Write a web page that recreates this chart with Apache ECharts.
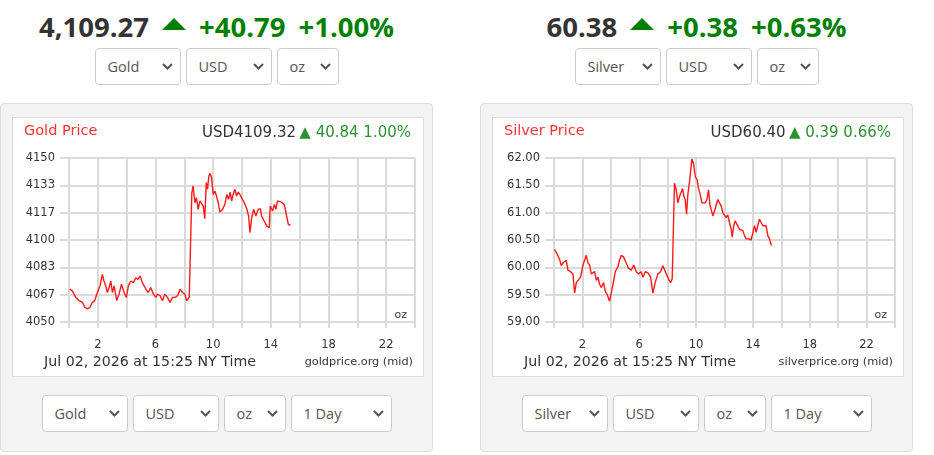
<!DOCTYPE html>
<html>
<head>
<meta charset="utf-8">
<script src="https://cdn.jsdelivr.net/npm/echarts@6/dist/echarts.min.js"></script>
<style>
  body { margin: 0; width: 934px; height: 455px; background: #fff; position: relative; overflow: hidden; font-family: "Open Sans", sans-serif; }
  .col { position: absolute; top: 0; width: 433px; height: 455px; }
  .quote { position: absolute; top: 13px; left: 0; width: 433px; text-align: center; font-size: 27.5px; line-height: 28px; font-weight: 700; color: #333; white-space: nowrap; }
  .quote .up { color: #008000; margin-left: 13px; }
  .tri { display: inline-block; width: 0; height: 0; border-left: 12px solid transparent; border-right: 12px solid transparent; border-bottom: 12px solid #008000; margin-left: 13px; vertical-align: 7px; }
  .row { position: absolute; left: 0; width: 433px; display: flex; justify-content: center; gap: 5px; }
  .sel { position: relative; box-sizing: border-box; height: 37px; border: 1px solid #ccc; border-radius: 4px; background: #fff; color: #555; font-size: 14.5px; line-height: 35px; padding-left: 12px; }
  .sel svg { position: absolute; right: 7px; top: 14px; }
  .panel { position: absolute; left: 0; top: 103px; width: 433px; height: 349px; box-sizing: border-box; background: #f3f3f3; border: 1px solid #dedede; border-radius: 4px; }
  .box { position: absolute; left: 11px; top: 13px; width: 412px; height: 260px; box-sizing: border-box; background: #fff; border: 1px solid #dcdcdc; }
  .chart { width: 410px; height: 258px; }
</style>
</head>
<body>
<div class="col" style="left:0">
  <div class="quote">4,109.27<span class="tri"></span><span class="up">+40.79</span><span class="up">+1.00%</span></div>
  <div class="row" style="top:48px">
    <div class="sel" style="width:86px">Gold</div>
    <div class="sel" style="width:86px">USD</div>
    <div class="sel" style="width:62px">oz</div>
  </div>
  <div class="panel">
    <div class="box"><div class="chart" id="chart-gold"></div></div>
  </div>
  <div class="row" style="top:395px">
    <div class="sel" style="width:86px">Gold</div>
    <div class="sel" style="width:86px">USD</div>
    <div class="sel" style="width:62px">oz</div>
    <div class="sel" style="width:101px">1 Day</div>
  </div>
</div>
<div class="col" style="left:480px">
  <div class="quote">60.38<span class="tri"></span><span class="up">+0.38</span><span class="up">+0.63%</span></div>
  <div class="row" style="top:48px">
    <div class="sel" style="width:86px">Silver</div>
    <div class="sel" style="width:86px">USD</div>
    <div class="sel" style="width:62px">oz</div>
  </div>
  <div class="panel">
    <div class="box"><div class="chart" id="chart-silver"></div></div>
  </div>
  <div class="row" style="top:395px">
    <div class="sel" style="width:86px">Silver</div>
    <div class="sel" style="width:86px">USD</div>
    <div class="sel" style="width:62px">oz</div>
    <div class="sel" style="width:101px">1 Day</div>
  </div>
</div>
<script>
// hours since midnight NY time
var goldHours = [0.05, 0.23, 0.47, 0.70, 0.81, 0.93, 1.09, 1.28, 1.46, 1.62, 1.78, 1.97, 2.15, 2.31, 2.43, 2.55, 2.66, 2.78, 2.90, 3.01,
  3.13, 3.31, 3.47, 3.64, 3.82, 3.98, 4.12, 4.28, 4.47, 4.63, 4.79, 4.93, 5.09, 5.33, 5.49, 5.67, 5.86, 6.02, 6.13, 6.32,
  6.48, 6.65, 6.83, 7.01, 7.18, 7.36, 7.53, 7.71, 7.87, 8.03, 8.17, 8.34, 8.44, 8.52, 8.61, 8.73, 8.84, 8.96, 9.08, 9.19,
  9.31, 9.42, 9.52, 9.61, 9.70, 9.79, 9.89, 10.00, 10.12, 10.23, 10.35, 10.47, 10.65, 10.81, 10.95, 11.07, 11.18, 11.28, 11.39, 11.51,
  11.62, 11.74, 11.85, 11.97, 12.16, 12.34, 12.46, 12.55, 12.66, 12.80, 12.96, 13.13, 13.27, 13.36, 13.54, 13.73, 13.89, 13.96, 14.12, 14.24,
  14.35, 14.47, 14.58, 14.70, 14.82, 14.93, 15.05, 15.21, 15.36];
var goldPrices = [4070, 4069, 4065, 4063, 4064, 4062, 4059, 4058, 4059, 4062, 4063, 4068, 4072, 4079, 4075, 4072, 4068, 4071, 4075, 4068,
  4072, 4063, 4067, 4073, 4068, 4065, 4072, 4075, 4074, 4077, 4076, 4078, 4074, 4070, 4068, 4071, 4067, 4065, 4067, 4066,
  4063, 4067, 4065, 4062, 4065, 4065, 4066, 4070, 4068, 4067, 4063, 4065, 4066, 4128.8, 4133, 4122.7, 4125.8, 4118.7, 4123.8, 4122.7,
  4120.7, 4113, 4135, 4131, 4139, 4140.6, 4138, 4127.8, 4129.9, 4126.8, 4122.7, 4117, 4118.7, 4121.7, 4127.8, 4124.8, 4129.2, 4123.8, 4127.8, 4130.9,
  4126.8, 4129.2, 4127.8, 4125.8, 4122.7, 4118.7, 4114.6, 4104.5, 4112.6, 4118.7, 4114.6, 4118.7, 4119.1, 4114.6, 4111.6, 4108.5, 4107.5, 4120.7, 4117.7, 4121.7,
  4118.7, 4123.8, 4124.8, 4123.2, 4123.8, 4121.7, 4116.7, 4109.6, 4109];

var silverHours = [0.04, 0.16, 0.28, 0.40, 0.51, 0.63, 0.75, 0.86, 0.98, 1.17, 1.33, 1.45, 1.57, 1.73, 1.87, 2.04, 2.15, 2.27, 2.39, 2.51,
  2.62, 2.74, 2.86, 2.98, 3.09, 3.21, 3.33, 3.49, 3.61, 3.75, 3.91, 4.03, 4.15, 4.31, 4.50, 4.62, 4.73, 4.90, 5.08, 5.25,
  5.44, 5.62, 5.79, 5.95, 6.14, 6.26, 6.42, 6.61, 6.80, 6.96, 7.12, 7.31, 7.50, 7.66, 7.78, 7.90, 8.06, 8.20, 8.32, 8.41,
  8.48, 8.60, 8.72, 8.84, 8.95, 9.05, 9.14, 9.23, 9.33, 9.42, 9.54, 9.61, 9.70, 9.82, 9.94, 10.08, 10.17, 10.29, 10.41, 10.52,
  10.64, 10.76, 10.88, 10.97, 11.06, 11.18, 11.30, 11.42, 11.53, 11.65, 11.77, 11.88, 12.00, 12.12, 12.23, 12.35, 12.47, 12.54, 12.65, 12.75,
  12.89, 13.05, 13.17, 13.29, 13.41, 13.52, 13.69, 13.87, 14.00, 14.11, 14.23, 14.34, 14.46, 14.58, 14.70, 14.81, 14.93, 15.05, 15.17, 15.30];
var silverPrices = [60.33, 60.30, 60.21, 60.14, 60.03, 60.08, 60.11, 60.13, 59.95, 59.92, 59.88, 59.53, 59.72, 59.77, 59.82, 60.04, 60.01, 60.22, 60.08, 60.04,
  59.88, 59.85, 59.92, 59.76, 59.82, 59.69, 59.63, 59.72, 59.56, 59.50, 59.38, 59.53, 59.69, 59.92, 60.01, 60.14, 60.22, 60.19, 60.08, 59.98,
  59.95, 60.04, 59.92, 59.88, 59.92, 59.82, 59.92, 59.90, 59.82, 59.53, 59.72, 59.88, 59.92, 60.03, 60.04, 59.88, 59.79, 59.72, 59.79, 59.76,
  61.54, 61.42, 61.18, 61.30, 61.33, 61.44, 61.30, 61.24, 60.97, 61.33, 61.57, 61.75, 61.98, 61.90, 61.66, 61.60, 61.45, 61.33, 61.18, 61.21,
  61.18, 61.24, 61.42, 61.15, 61.06, 60.94, 61.03, 61.06, 61.24, 61.27, 61.12, 61.00, 61.03, 60.91, 60.96, 60.82, 60.70, 60.55, 60.76, 60.85,
  60.82, 60.70, 60.70, 60.67, 60.58, 60.52, 60.52, 60.50, 60.64, 60.76, 60.64, 60.76, 60.88, 60.85, 60.76, 60.79, 60.76, 60.58, 60.52, 60.40];

var xLabelHours = [2, 6, 10, 14, 18, 22];
var goldTicks = { min: 4050, max: 4150, step: 100 / 6, digits: 0 };
var silverTicks = { min: 59, max: 62, step: 0.5, digits: 2 };

var gridColor = "#dadada";
var textFont = "DejaVu Sans";

function drawChart(id, cfg) {
  var myChart = echarts.init(document.getElementById(id));
  var points = [];
  for (let i = 0; i < cfg.hours.length; i++) {
    points.push([cfg.hours[i], cfg.prices[i]]);
  }

  var option = {
    animation: false,
    grid: {
      left: cfg.left,
      right: 8,
      top: 40,
      bottom: 54,
    },
    xAxis: {
      type: "value",
      min: 0,
      max: 24,
      interval: 2,
      axisLine: { show: false },
      axisTick: { show: true, length: 6, lineStyle: { color: gridColor, width: 2 } },
      splitLine: { show: true, lineStyle: { color: gridColor, width: 2 } },
      axisLabel: {
        margin: 17,
        color: "#333",
        fontFamily: textFont,
        fontSize: 11.5,
        formatter: function (v) {
          return xLabelHours.indexOf(v) >= 0 ? String(v) : "";
        },
      },
    },
    yAxis: {
      type: "value",
      min: cfg.ticks.min,
      max: cfg.ticks.max,
      interval: cfg.ticks.step,
      axisLine: { show: false },
      axisTick: { show: true, length: 9, lineStyle: { color: gridColor, width: 2 } },
      splitLine: { show: true, lineStyle: { color: gridColor, width: 2 } },
      axisLabel: {
        margin: 14,
        color: "#333",
        fontFamily: textFont,
        fontSize: 11.5,
        formatter: function (v) {
          return v.toFixed(cfg.ticks.digits);
        },
      },
    },
    graphic: [
      {
        type: "text",
        left: 11,
        top: 6,
        style: { text: cfg.title, fill: "#ff3333", font: "14.5px " + textFont },
      },
      {
        type: "text",
        right: 12,
        top: 8,
        style: {
          text: "{d|" + cfg.quote + "} {g|▲ " + cfg.change + "}",
          rich: {
            d: { fill: "#333", font: "15px " + textFont },
            g: { fill: "#2f912f", font: "15px " + textFont },
          },
        },
      },
      {
        type: "text",
        right: 16,
        top: 192,
        style: { text: "oz", fill: "#333", font: "11px " + textFont },
      },
      {
        type: "text",
        left: 31,
        top: 237,
        style: { text: "Jul 02, 2026 at 15:25 NY Time", fill: "#333", font: "14.2px " + textFont },
      },
      {
        type: "text",
        right: 10,
        top: 239,
        style: { text: cfg.source, fill: "#333", font: "11.3px " + textFont },
      },
    ],
    series: [
      {
        type: "line",
        data: points,
        showSymbol: false,
        lineStyle: { color: "#ff1a1a", width: 1.4 },
      },
    ],
  };

  myChart.setOption(option);
}

drawChart("chart-gold", {
  hours: goldHours, prices: goldPrices, ticks: goldTicks, left: 56,
  title: "Gold Price", quote: "USD4109.32", change: "40.84 1.00%", source: "goldprice.org (mid)",
});
drawChart("chart-silver", {
  hours: silverHours, prices: silverPrices, ticks: silverTicks, left: 61,
  title: "Silver Price", quote: "USD60.40", change: "0.39 0.66%", source: "silverprice.org (mid)",
});

// chevrons for the dropdown boxes
document.querySelectorAll(".sel").forEach(function (el) {
  el.insertAdjacentHTML("beforeend",
    '<svg width="11" height="7" viewBox="0 0 11 7"><path d="M1 1 L5.5 5.5 L10 1" stroke="#555" stroke-width="2" fill="none"/></svg>');
});
</script>
</body>
</html>
